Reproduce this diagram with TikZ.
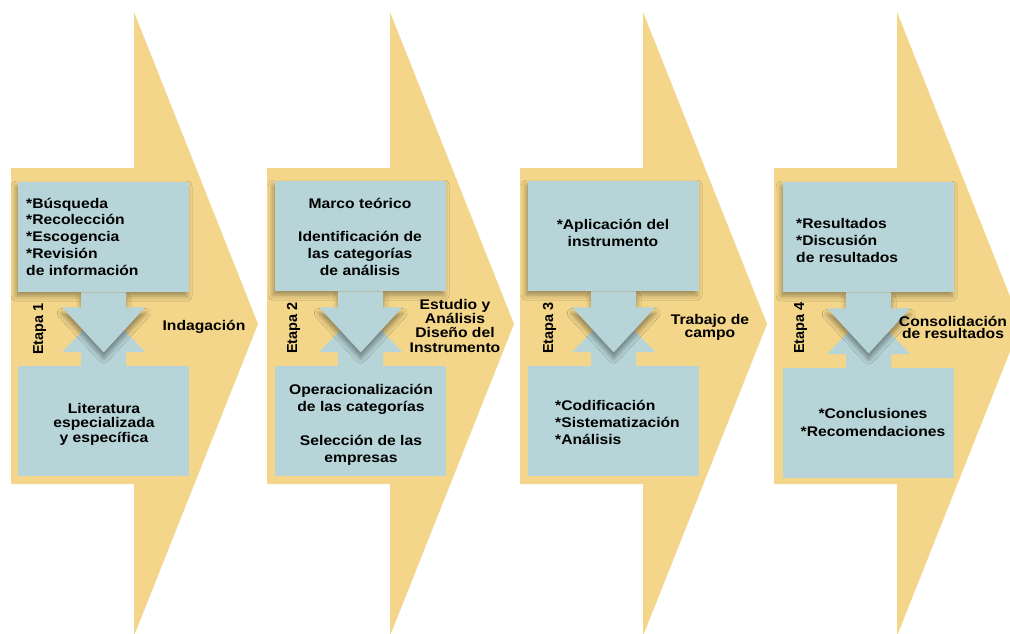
\documentclass[tikz,border=0pt]{standalone}
\usepackage{fontspec}
\setmainfont{Liberation Sans}[FakeStretch=1.12]
\newfontfamily\rotfont{Liberation Sans}
\usetikzlibrary{calc,shadows.blur}
\definecolor{ylw}{RGB}{243,214,138}
\definecolor{bx}{RGB}{183,213,216}
\tikzset{
  bigarrow/.style={fill=ylw, draw=none},
  box/.style={fill=bx, draw=none, minimum width=171pt, minimum height=110pt, inner sep=0pt},
  topbox/.style={box, blur shadow={shadow xshift=-2pt, shadow yshift=-4pt, shadow blur radius=5pt, shadow opacity=35}},
  downarrow/.style={fill=bx, draw=none, blur shadow={shadow xshift=0pt, shadow yshift=-6pt, shadow blur radius=5pt, shadow opacity=40}},
  uparrow/.style={fill=bx, draw=none},
  txt/.style={font=\bfseries\fontsize{14}{16.7}\selectfont, inner sep=0pt, anchor=base},
  lbl/.style={font=\bfseries\fontsize{14}{14}\selectfont, inner sep=0pt, anchor=base, align=center},
  etapa/.style={font=\rotfont\bfseries\fontsize{14.5}{14.5}\selectfont, rotate=90, inner sep=0pt, anchor=base},
}
\begin{document}
\begin{tikzpicture}[x=1pt,y=-1pt]
\useasboundingbox (0,0) rectangle (1010,634);
\clip (0,0) rectangle (1010,634);
\fill[white] (0,0) rectangle (1010,634);
% big yellow arrows
\foreach \o in {11,267,520,774}{
  \path[bigarrow] (\o,168) -- (\o+123,168) -- (\o+123,12) -- (\o+247,324)
    -- (\o+123,636) -- (\o+123,484) -- (\o,484) -- cycle;
}
% ---------- stage 1
\node[box, anchor=north west] (b1) at (18,366) {};
\path[uparrow] ($(b1.north)+(-22.5,0)$) -- ($(b1.north)+(-22.5,-14)$) -- ($(b1.north)+(-41.5,-14)$)
  -- ($(b1.north)+(0,-57)$) -- ($(b1.north)+(41.5,-14)$) -- ($(b1.north)+(22.5,-14)$) -- ($(b1.north)+(22.5,0)$) -- cycle;
\node[topbox, anchor=north west] (t1) at (18,182) {};
\path[downarrow] ($(t1.south)+(-22.5,0)$) -- ($(t1.south)+(-22.5,15)$) -- ($(t1.south)+(-41.5,15)$)
  -- ($(t1.south)+(0,60)$) -- ($(t1.south)+(41.5,15)$) -- ($(t1.south)+(22.5,15)$) -- ($(t1.south)+(22.5,0)$) -- cycle;
\node[txt, anchor=base west, align=left] (t1txt) at (26,275) {*Búsqueda\\*Recolección\\*Escogencia\\*Revisión\\de información};
\node[txt, align=center, font=\bfseries\fontsize{14}{14.5}\selectfont] (b1txt) at (104,442) {Literatura\\especializada\\y específica};
\node[etapa] (e1) at (43,329) {Etapa 1};
\node[lbl] (l1) at (204,330) {Indagación};
% ---------- stage 2
\node[box, anchor=north west] (b2) at (275,366) {};
\path[uparrow] ($(b2.north)+(-22.5,0)$) -- ($(b2.north)+(-22.5,-14)$) -- ($(b2.north)+(-41.5,-14)$)
  -- ($(b2.north)+(0,-57)$) -- ($(b2.north)+(41.5,-14)$) -- ($(b2.north)+(22.5,-14)$) -- ($(b2.north)+(22.5,0)$) -- cycle;
\node[topbox, anchor=north west] (t2) at (275,181) {};
\path[downarrow] ($(t2.south)+(-22.5,0)$) -- ($(t2.south)+(-22.5,16)$) -- ($(t2.south)+(-41.5,16)$)
  -- ($(t2.south)+(0,61)$) -- ($(t2.south)+(41.5,16)$) -- ($(t2.south)+(22.5,16)$) -- ($(t2.south)+(22.5,0)$) -- cycle;
\node[txt, align=center] (t2txt) at (360,275) {Marco teórico\\[16.7pt]Identificación de\\las categorías\\de análisis};
\node[txt, align=center, font=\bfseries\fontsize{14}{17}\selectfont] (b2txt) at (361,462) {Operacionalización\\de las categorías\\[17pt]Selección de las\\empresas};
\node[etapa] (e2) at (297,328) {Etapa 2};
\node[lbl, font=\bfseries\fontsize{14}{14.3}\selectfont] (l2) at (455,352) {Estudio y\\Análisis\\Diseño del\\Instrumento};
% ---------- stage 3
\node[box, anchor=north west] (b3) at (528,366) {};
\path[uparrow] ($(b3.north)+(-22.5,0)$) -- ($(b3.north)+(-22.5,-14)$) -- ($(b3.north)+(-41.5,-14)$)
  -- ($(b3.north)+(0,-57)$) -- ($(b3.north)+(41.5,-14)$) -- ($(b3.north)+(22.5,-14)$) -- ($(b3.north)+(22.5,0)$) -- cycle;
\node[topbox, anchor=north west] (t3) at (528,181) {};
\path[downarrow] ($(t3.south)+(-22.5,0)$) -- ($(t3.south)+(-22.5,16)$) -- ($(t3.south)+(-41.5,16)$)
  -- ($(t3.south)+(0,61)$) -- ($(t3.south)+(41.5,16)$) -- ($(t3.south)+(22.5,16)$) -- ($(t3.south)+(22.5,0)$) -- cycle;
\node[txt, align=center] (t3txt) at (613,246) {*Aplicación del\\instrumento};
\node[txt, anchor=base west, align=left] (b3txt) at (555,444) {*Codificación\\*Sistematización\\*Análisis};
\node[etapa] (e3) at (553,328) {Etapa 3};
\node[lbl, font=\bfseries\fontsize{14}{12.7}\selectfont] (l3) at (710,337) {Trabajo de\\campo};
% ---------- stage 4
\node[box, anchor=north west] (b4) at (783,368) {};
\path[uparrow] ($(b4.north)+(-22.5,0)$) -- ($(b4.north)+(-22.5,-14)$) -- ($(b4.north)+(-41.5,-14)$)
  -- ($(b4.north)+(0,-57)$) -- ($(b4.north)+(41.5,-14)$) -- ($(b4.north)+(22.5,-14)$) -- ($(b4.north)+(22.5,0)$) -- cycle;
\node[topbox, anchor=north west] (t4) at (783,182) {};
\path[downarrow] ($(t4.south)+(-22.5,0)$) -- ($(t4.south)+(-22.5,16)$) -- ($(t4.south)+(-41.5,16)$)
  -- ($(t4.south)+(0,61)$) -- ($(t4.south)+(41.5,16)$) -- ($(t4.south)+(22.5,16)$) -- ($(t4.south)+(22.5,0)$) -- cycle;
\node[txt, anchor=base west, align=left] (t4txt) at (796,262) {*Resultados\\*Discusión\\de resultados};
\node[txt, align=center, font=\bfseries\fontsize{14}{17.3}\selectfont] (b4txt) at (873,436) {*Conclusiones\\*Recomendaciones};
\node[etapa] (e4) at (804,328) {Etapa 4};
\node[lbl, font=\bfseries\fontsize{14}{12}\selectfont] (l4) at (953,338) {Consolidación\\de resultados};
\end{tikzpicture}
\end{document}
